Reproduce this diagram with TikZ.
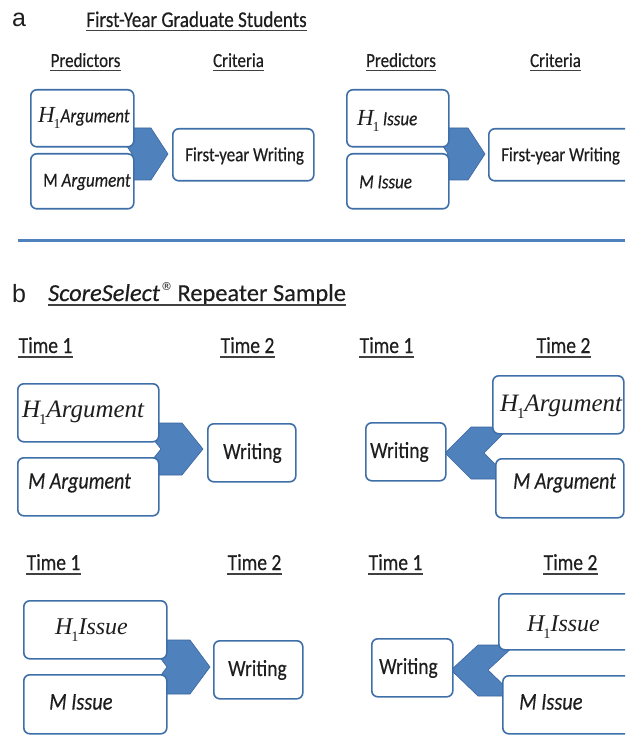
\documentclass[tikz,border=0pt]{standalone}
\usepackage{fontspec}
\usepackage{graphicx}
\setmainfont{Carlito}[FakeStretch=0.85,FakeBold=0.35]
\newfontfamily\wide{Carlito}[FakeBold=0.35]
\newfontfamily\tms{Liberation Serif}
\newfontfamily\arial{Liberation Sans}
\newfontfamily\dejavu{DejaVu Sans}
\newcommand\fs[1]{\fontsize{#1}{#1}\selectfont}
\newcommand\Hone{{\tms\itshape H}\kern-0.05em\raisebox{-0.28em}{\scalebox{0.6}{\tms\upshape 1}}}
\definecolor{boxblue}{HTML}{3F6FA9}
\definecolor{chevfill}{HTML}{4F81BD}
\definecolor{chevline}{HTML}{3A66A0}
\definecolor{ink}{HTML}{1E1E1E}
\tikzset{
  box/.style={draw=boxblue, line width=1.6pt, rounded corners=6pt, fill=white, inner sep=0pt, anchor=north west},
  chev/.style={fill=chevfill, draw=chevline, line width=0.6pt, line join=miter},
  txt/.style={inner sep=0pt, anchor=west, text=ink},
  hd/.style={inner sep=0pt, anchor=base, text=ink},
  ul/.style={draw=ink!85, line width=1.2pt},
  sep/.style={draw=chevfill, line width=3pt}
}
\begin{document}
\begin{tikzpicture}[x=1pt,y=-1pt]
\useasboundingbox (0,0) rectangle (625,735);
\clip (0,0) rectangle (625,735);
\fill[white] (0,0) rectangle (625,735);

% ---------------- panel a ----------------
\node[inner sep=0pt, anchor=base west, text=ink] (la) at (12,27) {\arial\fs{25}a};
\node[hd] (ta) at (196.5,27) {\fs{22.5}First-Year Graduate Students};
\draw[ul] ([yshift=-3.5pt]ta.base west) -- ([yshift=-3.5pt]ta.base east);

\node[hd] (p1) at (85.5,67) {\fs{20}Predictors};
\node[hd] (c1) at (238.5,67) {\fs{20}Criteria};
\node[hd] (p2) at (401,67) {\fs{20}Predictors};
\node[hd] (c2) at (555.5,67) {\fs{20}Criteria};
\foreach \n in {p1,c1,p2,c2}
  \draw[ul] ([yshift=-3.5pt]\n.base west) -- ([yshift=-3.5pt]\n.base east);

% chevrons panel a
\path[chev] (115,128) -- (151,128) -- (168,154) -- (151,180) -- (115,180) -- (132,154) -- cycle;
\path[chev] (431,128) -- (468,128) -- (485,154) -- (468,180) -- (431,180) -- (448,154) -- cycle;

\node[box, minimum width=103pt, minimum height=57pt] (A1) at (30,89) {};
\node[box, minimum width=103pt, minimum height=55pt] (A2) at (30,153) {};
\node[box, minimum width=141pt, minimum height=52pt] (AC) at (172,128) {};
\node[box, minimum width=102pt, minimum height=57pt] (B1) at (346,89) {};
\node[box, minimum width=102pt, minimum height=55pt] (B2) at (346,153) {};
\node[box, minimum width=150pt, minimum height=52pt] (BC) at (488,128) {};

\node[txt] (A1t) at (38,118) {\fs{20}{\fs{23}\Hone}\textit{Argument}};
\node[txt] (A2t) at (43,182) {\fs{20}M \textit{Argument}};
\node[txt] (ACt) at (185,156) {\fs{20}First-year Writing};
\node[txt] (B1t) at (357,121) {\fs{20}{\fs{23}\Hone}\,\textit{Issue}};
\node[txt] (B2t) at (359,182) {\fs{20}\textit{M Issue}};
\node[txt] (BCt) at (501,156) {\fs{20}First-year Writing};

% separator
\coordinate (s1) at (18,240);
\coordinate (s2) at (625,240);
\draw[sep] (s1) -- (s2);

% ---------------- panel b ----------------
\node[inner sep=0pt, anchor=base west, text=ink] (lb) at (12,302) {\arial\fs{25}b};
\node[inner sep=0pt, anchor=base west, text=ink] (tb) at (48,301) {\wide\fs{24.4}\textit{ScoreSelect}\kern1pt\raisebox{0.42em}{\dejavu\fs{11}®}\ Repeater Sample};
\draw[ul] ([yshift=-4pt]tb.base west) -- ([yshift=-4pt]tb.base east);

\node[hd] (t11) at (45.5,353) {\fs{23}Time 1};
\node[hd] (t12) at (247.5,353) {\fs{23}Time 2};
\node[hd] (t21) at (386.5,353) {\fs{23}Time 1};
\node[hd] (t22) at (563.5,353) {\fs{23}Time 2};
\node[hd] (t31) at (53.5,570) {\fs{23}Time 1};
\node[hd] (t32) at (254.5,570) {\fs{23}Time 2};
\node[hd] (t41) at (395.5,570) {\fs{23}Time 1};
\node[hd] (t42) at (570.5,570) {\fs{23}Time 2};
\foreach \n in {t11,t12,t21,t22,t31,t32,t41,t42}
  \draw[ul] ([yshift=-4pt]\n.base west) -- ([yshift=-4pt]\n.base east);

% chevrons panel b
\path[chev] (140,423) -- (182,423) -- (203,449) -- (182,475) -- (140,475) -- (161,449) -- cycle;
\path[chev] (510,427) -- (471,427) -- (445,453) -- (471,479) -- (510,479) -- (484,453) -- cycle;
\path[chev] (147,640) -- (190,640) -- (210,667) -- (190,694) -- (147,694) -- (167,667) -- cycle;
\path[chev] (515,645) -- (478,645) -- (451,670) -- (478,696) -- (515,696) -- (488,670) -- cycle;

\node[box, minimum width=141pt, minimum height=58pt] (C1) at (17,383) {};
\node[box, minimum width=141pt, minimum height=58pt] (C2) at (17,457) {};
\node[box, minimum width=88pt, minimum height=58pt] (CW) at (207,423) {};
\node[box, minimum width=80pt, minimum height=58pt] (DW) at (365,422) {};
\node[box, minimum width=131pt, minimum height=58pt] (D1) at (492,375) {};
\node[box, minimum width=128pt, minimum height=59pt] (D2) at (495,458) {};
\node[box, minimum width=143pt, minimum height=58pt] (E1) at (23,600) {};
\node[box, minimum width=143pt, minimum height=59pt] (E2) at (23,674) {};
\node[box, minimum width=89pt, minimum height=58pt] (EW) at (213,640) {};
\node[box, minimum width=81pt, minimum height=58pt] (FW) at (371,638) {};
\node[box, minimum width=140pt, minimum height=56pt] (F1) at (498,593) {};
\node[box, minimum width=140pt, minimum height=58pt] (F2) at (502,675) {};

\node[txt] (C1t) at (22,413) {\fs{25}\Hone{\tms\itshape Argument}};
\node[txt] (C2t) at (28,483) {\fs{23.5}\textit{M Argument}};
\node[txt] (CWt) at (223,453) {\fs{23}Writing};
\node[txt] (DWt) at (370,452) {\fs{23}Writing};
\node[txt] (D1t) at (500,407) {\fs{25}\Hone{\tms\itshape Argument}};
\node[txt] (D2t) at (513,483) {\fs{23.5}\textit{M Argument}};
\node[txt] (E1t) at (55,630) {\fs{24}\Hone{\tms\itshape Issue}};
\node[txt] (E2t) at (49,702) {\fs{24}\textit{M Issue}};
\node[txt] (EWt) at (228,670) {\fs{23}Writing};
\node[txt] (FWt) at (379,668) {\fs{23}Writing};
\node[txt] (F1t) at (527,627) {\fs{24}\Hone{\tms\itshape Issue}};
\node[txt] (F2t) at (519,702) {\fs{24}\textit{M Issue}};
\end{tikzpicture}
\end{document}
